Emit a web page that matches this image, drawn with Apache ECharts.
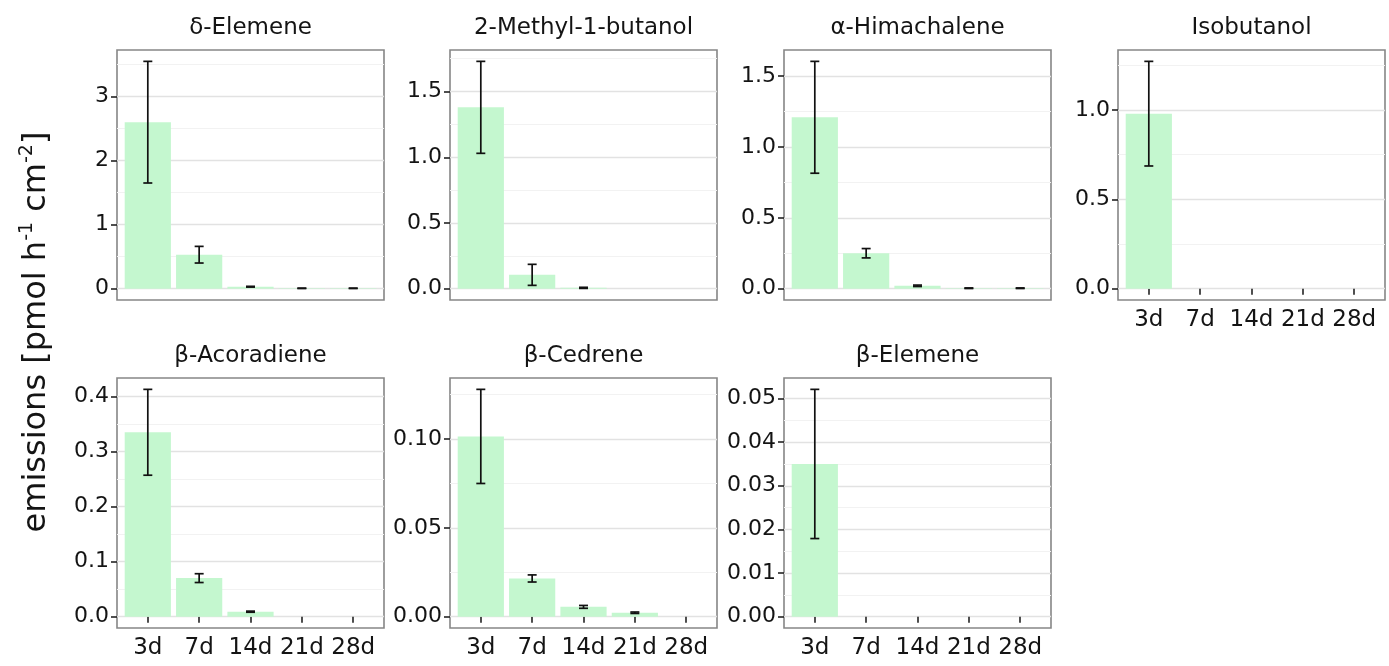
<!DOCTYPE html>
<html><head><meta charset="utf-8">
<script src="https://cdn.jsdelivr.net/npm/echarts@6/dist/echarts.min.js"></script>
<style>html,body{margin:0;padding:0;background:#fff}#c{width:1389px;height:666px}</style>
</head><body><div id="c"></div>
<script>
// ---------------- data ----------------
const categories = ['3d', '7d', '14d', '21d', '28d'];
const compounds = ['δ-Elemene', '2-Methyl-1-butanol', 'α-Himachalene', 'Isobutanol',
                   'β-Acoradiene', 'β-Cedrene', 'β-Elemene'];

const deltaElemeneMean = [2.60, 0.53, 0.03, 0.005, 0.005];
const deltaElemeneSE   = [0.95, 0.13, 0.006, 0.003, 0.003];
const methylButanolMean = [1.38, 0.105, 0.006, null, null];
const methylButanolSE   = [0.35, 0.08, 0.004, null, null];
const himachaleneMean = [1.21, 0.25, 0.02, 0.003, 0.003];
const himachaleneSE   = [0.395, 0.033, 0.005, 0.002, 0.002];
const isobutanolMean = [0.98, null, null, null, null];
const isobutanolSE   = [0.293, null, null, null, null];
const acoradieneMean = [0.335, 0.07, 0.009, null, null];
const acoradieneSE   = [0.078, 0.008, 0.001, null, null];
const cedreneMean = [0.1015, 0.0215, 0.0055, 0.0022, null];
const cedreneSE   = [0.0265, 0.002, 0.0008, 0.0004, null];
const betaElemeneMean = [0.035, null, null, null, null];
const betaElemeneSE   = [0.0171, null, null, null, null];

// y tick values and labels per panel
const deltaElemeneTicks = [0, 1, 2, 3];
const deltaElemeneTickLabels = ['0', '1', '2', '3'];
const methylButanolTicks = [0, 0.5, 1.0, 1.5];
const methylButanolTickLabels = ['0.0', '0.5', '1.0', '1.5'];
const himachaleneTicks = [0, 0.5, 1.0, 1.5];
const himachaleneTickLabels = ['0.0', '0.5', '1.0', '1.5'];
const isobutanolTicks = [0, 0.5, 1.0];
const isobutanolTickLabels = ['0.0', '0.5', '1.0'];
const acoradieneTicks = [0, 0.1, 0.2, 0.3, 0.4];
const acoradieneTickLabels = ['0.0', '0.1', '0.2', '0.3', '0.4'];
const cedreneTicks = [0, 0.05, 0.10];
const cedreneTickLabels = ['0.00', '0.05', '0.10'];
const betaElemeneTicks = [0, 0.01, 0.02, 0.03, 0.04, 0.05];
const betaElemeneTickLabels = ['0.00', '0.01', '0.02', '0.03', '0.04', '0.05'];

const means = [deltaElemeneMean, methylButanolMean, himachaleneMean, isobutanolMean,
               acoradieneMean, cedreneMean, betaElemeneMean];
const ses = [deltaElemeneSE, methylButanolSE, himachaleneSE, isobutanolSE,
             acoradieneSE, cedreneSE, betaElemeneSE];
const ticksAll = [deltaElemeneTicks, methylButanolTicks, himachaleneTicks, isobutanolTicks,
                  acoradieneTicks, cedreneTicks, betaElemeneTicks];
const tickLabelsAll = [deltaElemeneTickLabels, methylButanolTickLabels, himachaleneTickLabels,
                       isobutanolTickLabels, acoradieneTickLabels, cedreneTickLabels, betaElemeneTickLabels];

// ---------------- layout ----------------
const colLeft = [117, 450, 784, 1118];
const rowTop = [50, 378];
const PW = 267, PH = 250;
const showX = [false, false, false, true, true, true, true];
const barColor = '#c4f7cf';
const textColor = '#141414';
const FONT = 'DejaVu Sans';

const grids = [], xAxes = [], yAxes = [], series = [], graphics = [];

compounds.forEach((name, i) => {
  const row = i < 4 ? 0 : 1;
  const col = i < 4 ? i : i - 4;
  const left = colLeft[col], top = rowTop[row];
  grids.push({left: left, top: top, width: PW, height: PH, show: true,
              borderColor: '#868686', borderWidth: 1.6, backgroundColor: '#fff',
              containLabel: false});

  const m = means[i], s = ses[i];
  let maxTop = 0;
  m.forEach((v, k) => { if (v != null) maxTop = Math.max(maxTop, v + (s[k] || 0)); });
  const ymin = -0.05 * maxTop, ymax = 1.05 * maxTop;
  const ticks = ticksAll[i], labels = tickLabelsAll[i];
  const step = ticks[1] - ticks[0];
  const minor = [];
  for (let k = 0; k < ticks.length; k++) {
    const mv = ticks[k] + step / 2;
    if (mv < ymax) minor.push(mv);
  }

  xAxes.push({
    type: 'value', gridIndex: i, min: 0.4, max: 5.6,
    axisLine: {show: false},
    splitLine: {show: false},
    axisTick: {show: showX[i], length: 6, customValues: [1, 2, 3, 4, 5],
               lineStyle: {color: '#222', width: 1.6}},
    axisLabel: {show: showX[i], customValues: [1, 2, 3, 4, 5], margin: 9,
                fontFamily: FONT, fontSize: 23, color: textColor,
                formatter: v => categories[Math.round(v) - 1] || ''}
  });
  yAxes.push({
    type: 'value', gridIndex: i, min: ymin, max: ymax, position: 'left',
    axisLine: {show: false},
    axisTick: {show: true, length: 6, customValues: ticks, lineStyle: {color: '#222', width: 1.6}},
    axisLabel: {customValues: ticks, margin: 8, fontFamily: FONT, fontSize: 22, color: textColor,
                formatter: v => { const k = ticks.findIndex(t => Math.abs(t - v) < 1e-9); return k >= 0 ? labels[k] : ''; }},
    splitLine: {show: true, lineStyle: {color: '#e2e2e2', width: 1.3}}
  });
  // minor grid axis
  yAxes.push({
    type: 'value', gridIndex: i, min: ymin, max: ymax, position: 'left',
    axisLine: {show: false},
    axisTick: {show: false, customValues: minor},
    axisLabel: {show: false},
    splitLine: {show: true, lineStyle: {color: '#f2f2f2', width: 1}}
  });
  const yIdx = yAxes.length - 2;

  series.push({
    type: 'bar', xAxisIndex: i, yAxisIndex: yIdx,
    barWidth: 0.9 * PW / 5.2,
    itemStyle: {color: barColor},
    data: m.map((v, k) => [k + 1, v]),
    silent: true, animation: false
  });
  series.push({
    type: 'custom', xAxisIndex: i, yAxisIndex: yIdx, z: 5,
    encode: {x: 0, y: [1, 2]},
    data: m.map((v, k) => v == null ? [k + 1, null, null] : [k + 1, v - s[k], v + s[k]]),
    renderItem: (params, api) => {
      const lo = api.value(1), hi = api.value(2);
      if (isNaN(lo) || isNaN(hi)) return null;
      const x = api.value(0);
      const pl = api.coord([x, lo]), ph = api.coord([x, hi]);
      const hw = 4.5;
      const st = {stroke: '#111', lineWidth: 1.7};
      return {type: 'group', children: [
        {type: 'line', shape: {x1: pl[0], y1: pl[1], x2: ph[0], y2: ph[1]}, style: st},
        {type: 'line', shape: {x1: pl[0] - hw, y1: pl[1], x2: pl[0] + hw, y2: pl[1]}, style: st},
        {type: 'line', shape: {x1: ph[0] - hw, y1: ph[1], x2: ph[0] + hw, y2: ph[1]}, style: st}
      ]};
    },
    silent: true, animation: false
  });

  graphics.push({
    type: 'text', x: left + PW / 2, y: top - 22,
    style: {text: name, fontFamily: FONT, fontSize: 23, fill: textColor,
            align: 'center', verticalAlign: 'middle'}
  });
});

graphics.push({
  type: 'text', x: 37, y: 332, rotation: Math.PI / 2,
  style: {
    text: 'emissions [pmol h{sup|-1} cm{sup|-2}]',
    fontFamily: FONT, fontSize: 32, fill: textColor,
    align: 'center', verticalAlign: 'middle',
    rich: {sup: {fontFamily: FONT, fontSize: 19, fill: textColor, padding: [0, 0, 19, 0]}}
  }
});

const chart = echarts.init(document.getElementById('c'), null, {renderer: 'canvas'});
chart.setOption({
  backgroundColor: '#fff',
  animation: false,
  grid: grids, xAxis: xAxes, yAxis: yAxes, series: series, graphic: graphics
});
</script>
</body></html>
